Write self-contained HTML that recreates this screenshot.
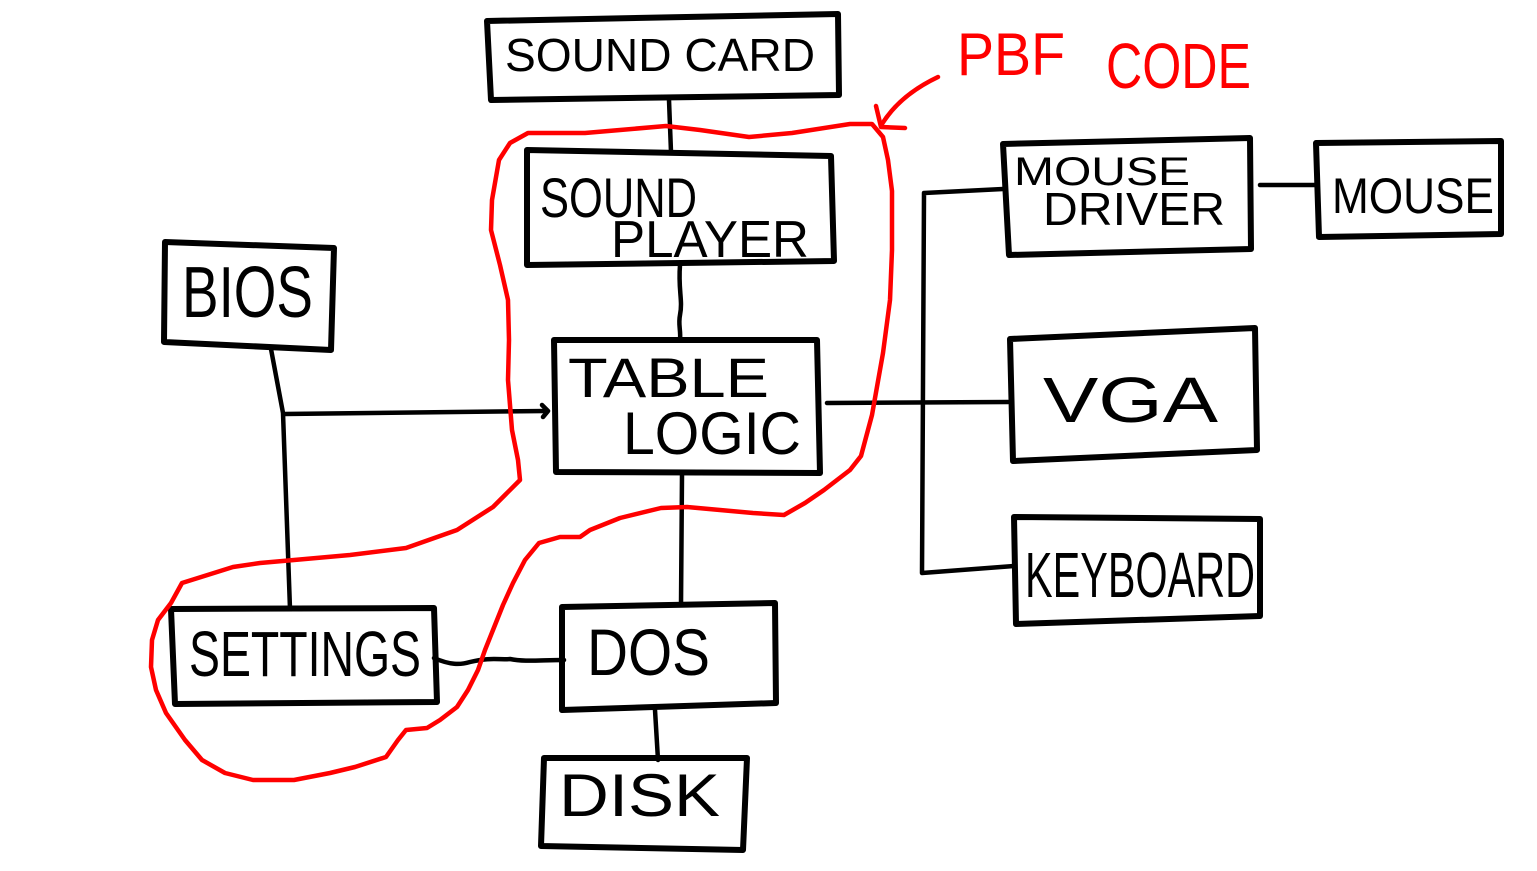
<!DOCTYPE html>
<html><head><meta charset="utf-8"><style>
html,body{margin:0;padding:0;background:#fff;}
svg{display:block;}
text{font-family:"Liberation Sans",sans-serif;}
</style></head><body>
<svg width="1537" height="871" viewBox="0 0 1537 871" xmlns="http://www.w3.org/2000/svg">
<rect width="1537" height="871" fill="#fff"/>
<g fill="none" stroke="#000" stroke-width="6" stroke-linejoin="round" stroke-linecap="round">
<polygon points="487,21 838,14 839,95 491,100"/>
<polygon points="527,150 831,156 834,261 527,265"/>
<polygon points="165,242 334,248 331,350 164,342"/>
<polygon points="554,340 817,340 820,473 556,472"/>
<polygon points="171,609 434,608 437,702 175,704"/>
<polygon points="562,607 775,603 776,703 562,710"/>
<polygon points="544,758 747,758 743,850 541,846"/>
<polygon points="1003,144 1250,138 1251,249 1009,255"/>
<polygon points="1316,143 1501,141 1501,234 1319,237"/>
<polygon points="1010,339 1255,328 1257,450 1013,461"/>
<polygon points="1014,517 1260,519 1260,616 1016,624"/>
</g>
<g fill="none" stroke="#000" stroke-width="4.5" stroke-linejoin="round" stroke-linecap="round">
<path d="M669,100 L671,152"/>
<path d="M680,265 C678,290 683,300 680,315 C678,325 681,330 680,340"/>
<path d="M271,349 L283,413 L290,609"/>
<path d="M284,414 L546,411"/>
<path d="M542,405 L548,411 L543,417"/>
<path d="M827,403 L1008,402"/>
<path d="M1003,189 L924,193 L922,573 L1014,566"/>
<path d="M1260,185 L1317,185"/>
<path d="M682,475 L681,605"/>
<path d="M655,710 L658,760"/>
<path d="M434,658 C450,665 460,665 470,662 C490,657 500,660 510,659 C525,662 540,660 564,660"/>
</g>
<g fill="#000">
<text x="505" y="71" font-size="46" textLength="310" lengthAdjust="spacingAndGlyphs">SOUND CARD</text>
<text x="540" y="217" font-size="56" textLength="157" lengthAdjust="spacingAndGlyphs">SOUND</text>
<text x="611" y="257" font-size="52" textLength="198" lengthAdjust="spacingAndGlyphs">PLAYER</text>
<text x="182" y="317" font-size="72" textLength="131" lengthAdjust="spacingAndGlyphs">BIOS</text>
<text x="568" y="397" font-size="56" textLength="201" lengthAdjust="spacingAndGlyphs">TABLE</text>
<text x="623" y="454" font-size="60" textLength="178" lengthAdjust="spacingAndGlyphs">LOGIC</text>
<text x="189" y="676" font-size="64" textLength="232" lengthAdjust="spacingAndGlyphs">SETTINGS</text>
<text x="587" y="675" font-size="66" textLength="123" lengthAdjust="spacingAndGlyphs">DOS</text>
<text x="559" y="816" font-size="60" textLength="161" lengthAdjust="spacingAndGlyphs">DISK</text>
<text x="1014" y="185" font-size="40" textLength="176" lengthAdjust="spacingAndGlyphs">MOUSE</text>
<text x="1043" y="225" font-size="46" textLength="182" lengthAdjust="spacingAndGlyphs">DRIVER</text>
<text x="1332" y="213" font-size="50" textLength="162" lengthAdjust="spacingAndGlyphs">MOUSE</text>
<text x="1043" y="422" font-size="64" textLength="175" lengthAdjust="spacingAndGlyphs">VGA</text>
<text x="1025" y="597" font-size="64" textLength="230" lengthAdjust="spacingAndGlyphs">KEYBOARD</text>
</g>
<g fill="#f00">
<text x="957" y="75" font-size="60" textLength="108" lengthAdjust="spacingAndGlyphs">PBF</text>
<text x="1106" y="88" font-size="64" textLength="145" lengthAdjust="spacingAndGlyphs">CODE</text>
</g>
<g fill="none" stroke="#f00" stroke-width="4.5" stroke-linejoin="round" stroke-linecap="round">
<path d="M938,77 Q900,95 882,124"/>
<path d="M876,106 L881,127 L905,128"/>
<polyline points="883,137 872,124 850,124 792,133 749,137 700,130 666,126 620,130 585,133 528,133 510,143 499,160 492,200 491,230 500,265 508,300 509,340 508,380 512,430 518,460 520,480 505,495 493,507 457,530 406,548 350,555 294,560 260,563 233,567 182,583 171,603 158,620 152,640 151,667 156,690 166,713 185,740 202,760 225,773 253,780 294,780 330,773 355,767 386,757 398,740 406,730 427,728 440,720 457,707 468,690 478,670 485,650 493,630 503,605 513,583 525,560 539,543 560,537 580,537 590,530 620,518 661,508 687,507 720,510 753,513 784,515 805,503 824,490 850,470 861,456 872,415 883,353 890,300 892,250 892,191 888,160 883,137"/>
</g>
</svg>
</body></html>
